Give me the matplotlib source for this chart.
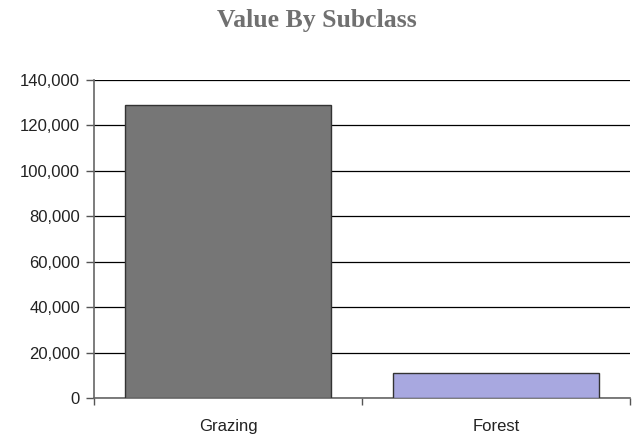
import matplotlib
matplotlib.use("Agg")
import matplotlib.pyplot as plt
from matplotlib.ticker import FuncFormatter, FixedLocator

categories = ["Grazing", "Forest"]
values = [129000, 11000]
colors = ["#767676", "#a8a8e0"]
yticks = [0, 20000, 40000, 60000, 80000, 100000, 120000, 140000]

fig = plt.figure(figsize=(6.35, 4.38), dpi=100)
ax = fig.add_axes([94/635, 1-398/438, (630-94)/635, (398-80)/438])

x = list(range(len(categories)))
ax.bar(x, values, width=0.77, color=colors, edgecolor="#333333", linewidth=1.0, zorder=3)
ax.set_xlim(-0.5, len(categories) - 0.5)
ax.set_ylim(0, 140000)
ax.yaxis.set_major_locator(FixedLocator(yticks))
ax.yaxis.set_major_formatter(FuncFormatter(lambda v, p: f"{int(v):,}"))
ax.grid(axis="y", color="black", linewidth=0.9, zorder=0)

ax.set_xticks(x)
ax.set_xticklabels(categories)
ax.set_xticks([-0.5, 0.5, 1.5], minor=True)
ax.tick_params(axis="x", which="major", length=0, pad=15)
ax.tick_params(axis="x", which="minor", length=5, direction="out", color="#555555", width=1)
ax.tick_params(axis="y", length=6, direction="out", color="#555555", width=1, pad=4)
for lab in ax.get_xticklabels() + ax.get_yticklabels():
    lab.set_fontfamily("Liberation Sans")
    lab.set_fontsize(12)
    lab.set_color("#222222")

for s in ["top", "right"]:
    ax.spines[s].set_visible(False)
for s in ["left", "bottom"]:
    ax.spines[s].set_color("#666666")
    ax.spines[s].set_linewidth(1.2)

fig.text(317/635, 1-21/438, "Value By Subclass", ha="center", va="center",
         fontsize=18.5, fontweight="bold", family="Liberation Serif", color="#707070")

fig.savefig("out.png", dpi=100)
